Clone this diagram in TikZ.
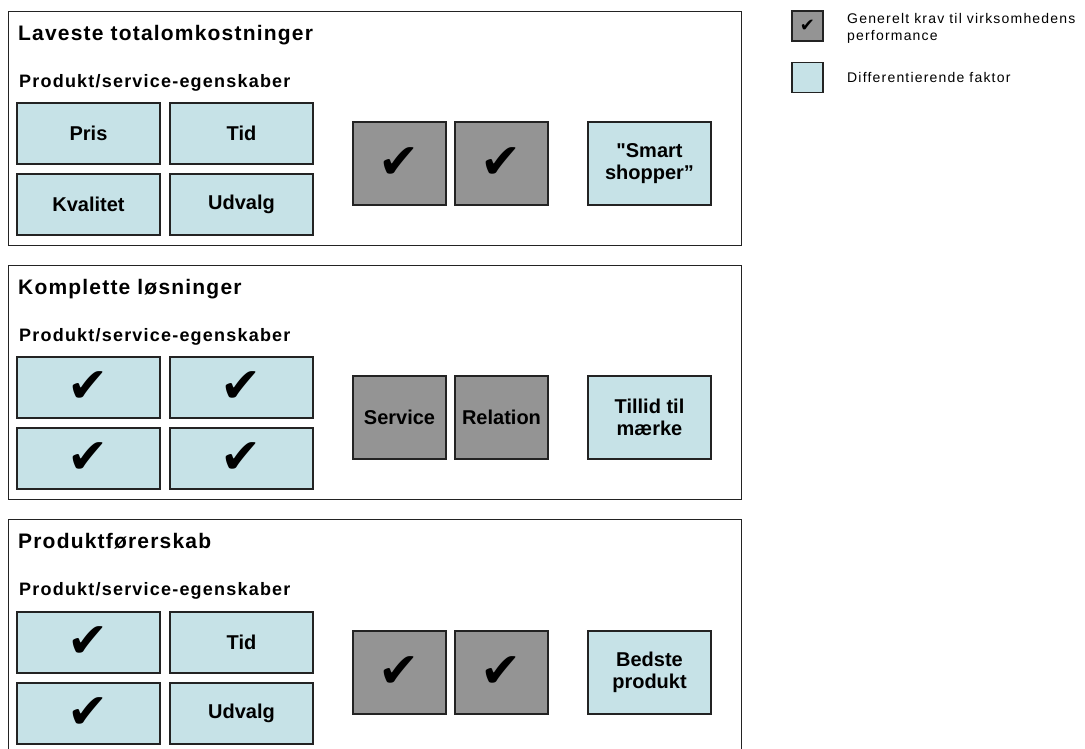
\documentclass[tikz,border=0pt]{standalone}
\usepackage{fontspec}
\setmainfont{Liberation Sans}
\newfontfamily\headfont[LetterSpace=5.7]{Liberation Sans}
\newfontfamily\subfont[LetterSpace=6.7]{Liberation Sans}
\newfontfamily\legfont[LetterSpace=8.5]{Liberation Sans}
\newfontfamily\cellfont{Liberation Sans}
\newfontfamily\checkfont{DejaVu Sans}
\definecolor{cellblue}{RGB}{198,226,231}
\definecolor{cellgray}{RGB}{148,148,148}
\definecolor{edge}{RGB}{35,35,35}
\newcommand{\chk}{{\checkfont\fontsize{49}{49}\selectfont ✔}}
\newcommand{\smallchk}{{\checkfont\fontsize{18}{18}\selectfont ✔}}
\tikzset{
  panel/.style={draw=edge, line width=1pt},
  cell/.style={draw=edge, line width=1.3pt, inner sep=0pt, align=center,
    font=\cellfont\fontsize{20}{22}\selectfont\bfseries},
  attr/.style={cell, fill=cellblue, minimum width=143pt, minimum height=61pt},
  req/.style={cell, fill=cellgray, minimum width=93pt, minimum height=83pt},
  diff/.style={cell, fill=cellblue, minimum width=123pt, minimum height=83pt},
  heading/.style={anchor=base west, inner sep=0pt,
    font=\headfont\fontsize{21}{25}\selectfont\bfseries},
  subheading/.style={anchor=base west, inner sep=0pt,
    font=\subfont\fontsize{18}{22}\selectfont\bfseries},
  legbox/.style={draw=edge, line width=1.3pt, inner sep=0pt,
    minimum width=31pt, minimum height=30pt},
  legtext/.style={anchor=base west, inner sep=0pt,
    font=\legfont\fontsize{14}{17}\selectfont},
}
\begin{document}
\begin{tikzpicture}[x=1pt, y=-1pt]
\useasboundingbox (0,0) rectangle (1085,748);
\clip (0,0) rectangle (1085,748);

% Panel 1: lowest total cost
\draw[panel] (8,11) rectangle (741,245);
\node[heading] (h1) at (18,40) {Laveste totalomkostninger};
\node[subheading] (s1) at (19,87) {Produkt/service-egenskaber};
\node[attr] (a1) at (88.5,133.5) {Pris};
\node[attr] (b1) at (241.5,133.5) {Tid};
\node[attr] (c1) at (88.5,204.5) {Kvalitet};
\node[attr] (d1) at (241.5,204.5) {Udvalg};
\node[req] (r1) at (399.5,163.5) {\chk};
\node[req] (q1) at (501.5,163.5) {\chk};
\node[diff] (f1) at (649.5,163.5) {"Smart\\shopper”};

% Panel 2: complete solutions
\begin{scope}[yshift=-254pt]
\draw[panel] (8,11) rectangle (741,245);
\node[heading] (h2) at (18,40) {Komplette løsninger};
\node[subheading] (s2) at (19,87) {Produkt/service-egenskaber};
\node[attr] (a2) at (88.5,133.5) {\chk};
\node[attr] (b2) at (241.5,133.5) {\chk};
\node[attr] (c2) at (88.5,204.5) {\chk};
\node[attr] (d2) at (241.5,204.5) {\chk};
\node[req] (r2) at (399.5,163.5) {Service};
\node[req] (q2) at (501.5,163.5) {Relation};
\node[diff] (f2) at (649.5,163.5) {Tillid til\\mærke};
\end{scope}

% Panel 3: product leadership
\begin{scope}[yshift=-508pt]
\draw[panel] (8,11) rectangle (741,260);
\node[heading] (h3) at (18,40) {Produktførerskab};
\node[subheading] (s3) at (19,87) {Produkt/service-egenskaber};
\node[attr] (a3) at (88.5,134.5) {\chk};
\node[attr] (b3) at (241.5,134.5) {Tid};
\node[attr] (c3) at (88.5,205.5) {\chk};
\node[attr] (d3) at (241.5,205.5) {Udvalg};
\node[req] (r3) at (399.5,164.5) {\chk};
\node[req] (q3) at (501.5,164.5) {\chk};
\node[diff] (f3) at (649.5,164.5) {Bedste\\produkt};
\end{scope}

% Legend
\node[legbox, fill=cellgray] (lg) at (807.5,26) {\smallchk};
\node[legbox, fill=cellblue] (lb) at (807.5,77.5) {};
\node[legtext] (lt1) at (847,23) {Generelt krav til virksomhedens};
\node[legtext] (lt2) at (847,40) {performance};
\node[legtext] (lt3) at (847,82) {Differentierende faktor};
\end{tikzpicture}
\end{document}
